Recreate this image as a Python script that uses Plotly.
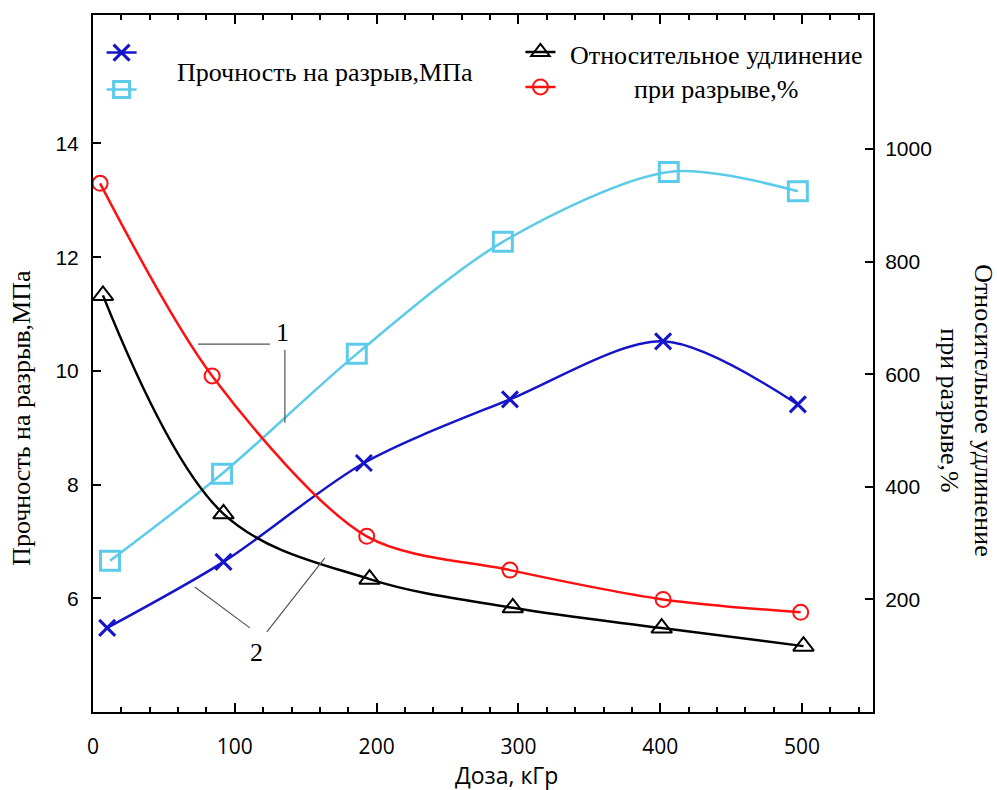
import plotly.graph_objects as go

# ---------------- data ----------------
dose_strength_x = [10, 92, 191, 294, 402, 497]
strength_x = [5.48, 6.64, 8.38, 9.50, 10.52, 9.41]          # blue X, MPa

dose_strength_sq = [12, 91, 186, 289, 406, 497]
strength_sq = [6.66, 8.19, 10.30, 12.27, 13.50, 13.16]      # cyan squares, MPa

dose_elong_tri = [7, 92, 195, 296, 401, 501]
elong_tri = [740, 352, 236, 185, 149, 117]                  # black triangles, %

dose_elong_circ = [5, 84, 193, 294, 402, 499]
elong_circ = [939, 597, 312, 252, 200, 177]                 # red circles, %

x_ticks = [0, 100, 200, 300, 400, 500]
y_left_ticks = [6, 8, 10, 12, 14]
y_right_ticks = [200, 400, 600, 800, 1000]

BLUE = "#1414c8"
CYAN = "#5ccbea"
RED = "#ff1010"
BLACK = "#000000"

SERIF = "Liberation Serif"
SANS = "Liberation Sans"
XFONT = "Open Sans"
SMOOTH = 0.85

fig = go.Figure()

fig.add_trace(go.Scatter(
    x=dose_strength_x, y=strength_x, mode="lines+markers", name="",
    line=dict(color=BLUE, width=2.5, shape="spline", smoothing=SMOOTH),
    marker=dict(symbol="x-thin", size=16, color=BLUE, line=dict(color=BLUE, width=3)),
    legend="legend", legendgroup="a"))
fig.add_trace(go.Scatter(
    x=dose_strength_sq, y=strength_sq, mode="lines+markers", name="",
    line=dict(color=CYAN, width=2.5, shape="spline", smoothing=SMOOTH),
    marker=dict(symbol="square-open", size=19, color=CYAN, line=dict(width=3)),
    legend="legend", legendgroup="b"))
fig.add_trace(go.Scatter(
    x=dose_elong_tri, y=elong_tri, mode="lines+markers", name="", yaxis="y2",
    line=dict(color=BLACK, width=2.5, shape="spline", smoothing=1),
    marker=dict(symbol="triangle-up-open", size=18, color=BLACK, line=dict(width=2)),
    legend="legend2", legendgroup="c"))
fig.add_trace(go.Scatter(
    x=dose_elong_circ, y=elong_circ, mode="lines+markers", name="", yaxis="y2",
    line=dict(color=RED, width=2.5, shape="spline", smoothing=SMOOTH),
    marker=dict(symbol="circle-open", size=15, color=RED, line=dict(width=2)),
    legend="legend2", legendgroup="d"))

# leader lines for curve labels "1" and "2"
lead = dict(color="#555555", width=1.2)
fig.add_shape(type="line", xref="x", yref="y", x0=74, y0=10.47, x1=124.7, y1=10.47, line=lead)
fig.add_shape(type="line", xref="x", yref="y", x0=135.3, y0=10.37, x1=135.3, y1=9.09, line=lead)
fig.add_shape(type="line", xref="x", yref="y", x0=71.8, y0=6.20, x1=110.6, y1=5.48, line=lead)
fig.add_shape(type="line", xref="x", yref="y", x0=122.6, y0=5.41, x1=163.5, y1=6.71, line=lead)

def note(text, x, y, font, xref="paper", yref="paper", angle=0):
    fig.add_annotation(x=x, y=y, xref=xref, yref=yref, text=text, showarrow=False,
                       xanchor="center", yanchor="middle", align="center",
                       textangle=angle, font=font)

serif26 = dict(family=SERIF, size=26, color="black")
note("1", 133.9, 10.67, serif26, "x", "y")
note("2", 115.6, 5.05, serif26, "x", "y")

# legend texts
note("Прочность на разрыв,МПа", 0.297, 0.917, serif26)
note("Относительное удлинение<br>при разрыве,%", 0.799, 0.918, serif26)

# axis titles
note("Доза, кГр", 0.5295, -0.0904, dict(family=XFONT, size=23, color="black"))
note("Прочность на разрыв,МПа", -0.091, 0.422, serif26, angle=-90)
note("Относительное удлинение<br>при разрыве,%", 1.1205, 0.433, serif26, angle=90)

fig.update_layout(
    width=997, height=790,
    margin=dict(l=93, r=124, t=15, b=78),
    plot_bgcolor="white", paper_bgcolor="white",
    xaxis=dict(range=[0, 550], tickvals=x_ticks, ticks="inside", ticklen=9, tickwidth=2,
               tickcolor="black", showline=True, linewidth=2, linecolor="black", mirror="ticks",
               minor=dict(dtick=20, tick0=0, ticks="inside", ticklen=5, tickwidth=1.5, tickcolor="black"),
               showgrid=False, zeroline=False, ticklabelstandoff=15,
               tickfont=dict(family=XFONT, size=21, color="black")),
    yaxis=dict(range=[4, 16.26], tickvals=y_left_ticks, ticks="inside", ticklen=8, tickwidth=2,
               tickcolor="black", showline=True, linewidth=2, linecolor="black",
               showgrid=False, zeroline=False, ticklabelstandoff=8,
               tickfont=dict(family=SANS, size=21, color="black")),
    yaxis2=dict(range=[0, 1238], tickvals=y_right_ticks, overlaying="y", side="right",
                ticks="inside", ticklen=8, tickwidth=2, tickcolor="black",
                showline=True, linewidth=2, linecolor="black",
                showgrid=False, zeroline=False, ticklabelstandoff=6,
                tickfont=dict(family=SANS, size=21, color="black")),
    legend=dict(x=0.011, y=0.974, xanchor="left", yanchor="top", bgcolor="rgba(0,0,0,0)",
                font=dict(family=SERIF, size=20), tracegroupgap=8, itemwidth=30),
    legend2=dict(x=0.548, y=0.975, xanchor="left", yanchor="top", bgcolor="rgba(0,0,0,0)",
                 font=dict(family=SERIF, size=20), tracegroupgap=6, itemwidth=30),
    showlegend=True,
)

fig.write_html("out.html")
